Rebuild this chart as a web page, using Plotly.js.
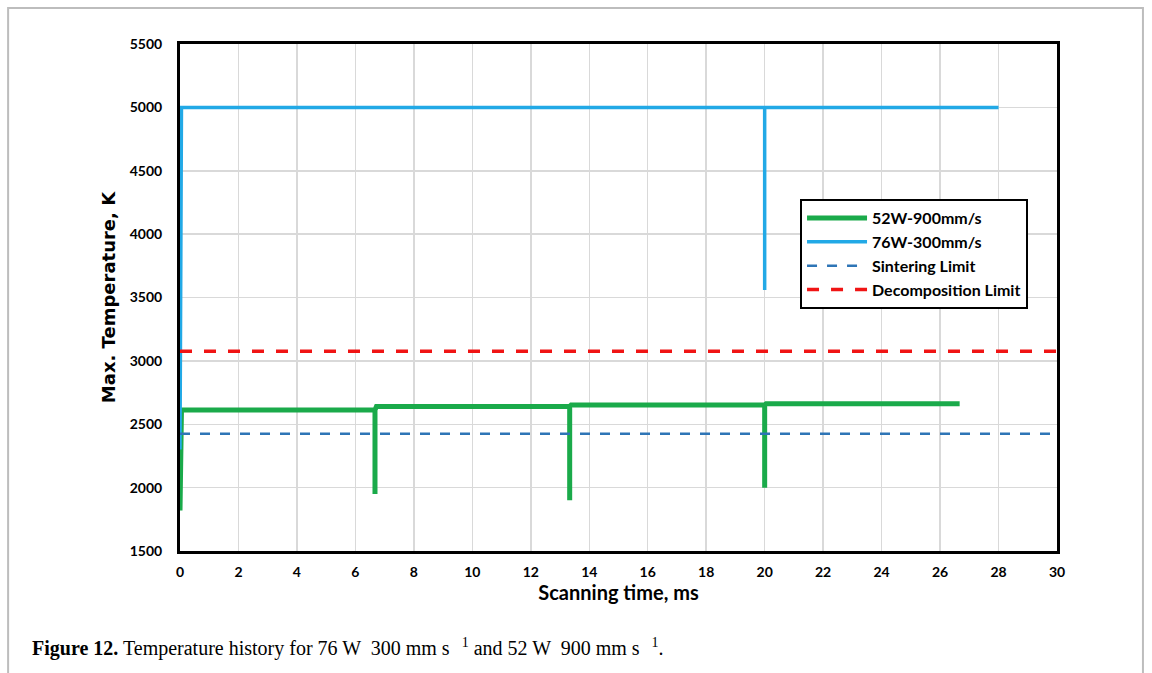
<!DOCTYPE html>
<html><head><meta charset="utf-8">
<script src="https://cdn.plot.ly/plotly-3.0.1.min.js"></script>
<style>body{margin:0;background:#fff}#c{width:1152px;height:673px}</style>
</head><body><div id="c"></div>
<script>
// 52W-900mm/s
const t52 = [0, 0.02, 0.05, 6.67, 6.67, 6.67, 6.72, 13.33, 13.33, 13.33, 13.38, 20.0, 20.0, 20.0, 20.05, 26.67];
const T52 = [1820, 2200, 2612, 2612, 1950, 2612, 2640, 2640, 1900, 2640, 2652, 2652, 2000, 2652, 2662, 2662];
// 76W-300mm/s
const t76 = [0, 0.05, 20.0, 20.0, 20.0, 28.0];
const T76 = [2300, 5000, 5000, 3560, 5000, 5000];
// limits
const tLim = [0, 30];
const sinter = [2425, 2425];
const decomp = [3075, 3075];

const traces = [
  {x: t52, y: T52, mode: 'lines', name: '52W-900mm/s', line: {color: '#1aaa4a', width: 5}},
  {x: t76, y: T76, mode: 'lines', name: '76W-300mm/s', line: {color: '#22a9e6', width: 3.5}},
  {x: tLim, y: sinter, mode: 'lines', name: 'Sintering Limit', line: {color: '#2e75b6', width: 2.5, dash: '10px,10px'}},
  {x: tLim, y: decomp, mode: 'lines', name: 'Decomposition Limit', line: {color: '#f01414', width: 3.5, dash: '12px,12px'}}
];

const tickFont = {family: 'Lato, "Open Sans", sans-serif', size: 14, color: '#000', weight: 'bold'};
const layout = {
  width: 1152, height: 673,
  margin: {l: 180, r: 95, t: 44, b: 122},
  paper_bgcolor: '#fff', plot_bgcolor: '#fff',
  showlegend: true,
  xaxis: {
    range: [0, 30], dtick: 2, tick0: 0,
    showgrid: true, gridcolor: '#d9d9d9', gridwidth: 1.5,
    showline: true, linecolor: '#000', linewidth: 3, mirror: true,
    zeroline: false, ticks: '', tickfont: tickFont, ticklabelstandoff: 6,
    title: {text: '<b>Scanning time, ms</b>', font: {family: 'Lato, "Open Sans", sans-serif', size: 20, color: '#000'}, standoff: 2}
  },
  yaxis: {
    range: [1500, 5500], dtick: 500, tick0: 1500,
    showgrid: true, gridcolor: '#d9d9d9', gridwidth: 1.5,
    showline: true, linecolor: '#000', linewidth: 3, mirror: true,
    zeroline: false, ticks: '', tickfont: tickFont, ticklabelstandoff: 12,
    title: {text: '<b>Max. Temperature, K</b>', font: {family: '"DejaVu Sans", Verdana, sans-serif', size: 18, color: '#000'}, standoff: 10}
  },
  legend: {
    x: 0.707, y: 0.694, xanchor: 'left', yanchor: 'top',
    bgcolor: '#fff', bordercolor: '#000', borderwidth: 2,
    font: {family: 'Lato, "Open Sans", sans-serif', size: 16, color: '#000', weight: 'bold'},
    tracegroupgap: 0, itemwidth: 60
  },
  shapes: [
    {type: 'rect', xref: 'paper', yref: 'paper', x0: -0.196, x1: 1.098, y0: -0.3, y1: 1.071,
     line: {color: '#bdbdbd', width: 2}, fillcolor: 'rgba(0,0,0,0)', layer: 'below'}
  ],
  annotations: [
    {xref: 'paper', yref: 'paper', x: -0.171, y: -0.19, xanchor: 'left', yanchor: 'middle', showarrow: false,
     text: '<b>Figure 12.</b> Temperature history for 76 W  300 mm s <sup>  1</sup> and 52 W  900 mm s <sup>  1</sup>.',
     font: {family: '"Liberation Serif", "DejaVu Serif", serif', size: 20, color: '#000'}}
  ]
};
Plotly.newPlot('c', traces, layout, {displayModeBar: false, staticPlot: true});
</script></body></html>
